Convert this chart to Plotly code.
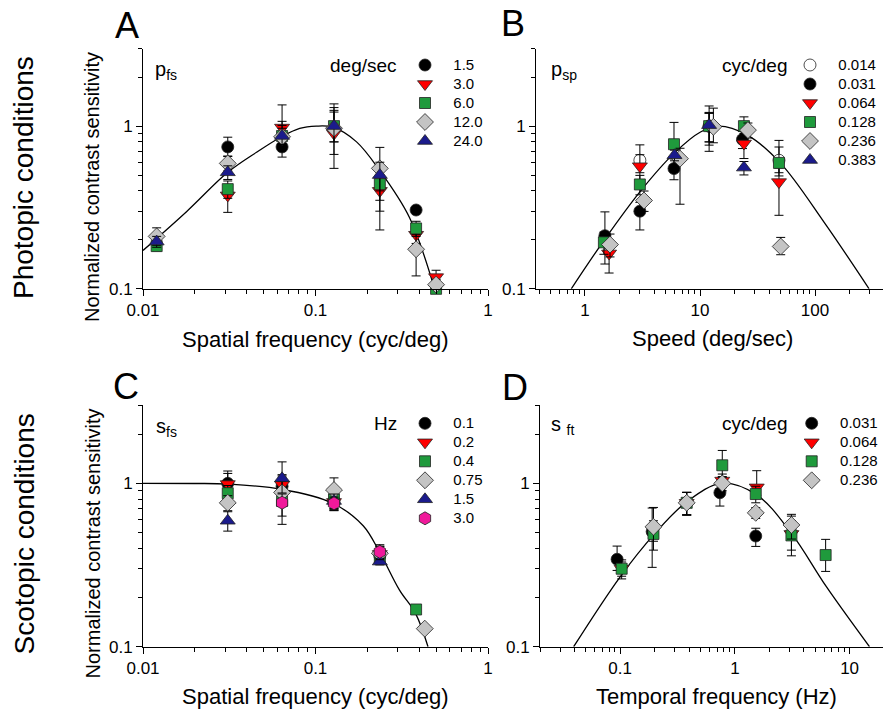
import math
import plotly.graph_objects as go

FONT = "Arial, 'Liberation Sans', sans-serif"
W, H = 883, 709

# ---------------- Panel A: p_fs (spatial frequency, photopic) ----------------
a_unit = "deg/sec"
a_labels = ["1.5", "3.0", "6.0", "12.0", "24.0"]
a_x1 = [0.031, 0.064, 0.383]
a_y1 = [0.745, 0.745, 0.305]
a_up1 = [0.11, 0.10, 0.012]
a_dn1 = [0.09, 0.10, 0.012]
a_x2 = [0.031, 0.064, 0.128, 0.236, 0.383, 0.5]
a_y2 = [0.375, 0.98, 0.90, 0.40, 0.215, 0.118]
a_up2 = [0.06, 0.37, 0.35, 0.10, 0.025, 0.012]
a_dn2 = [0.08, 0.20, 0.35, 0.17, 0.025, 0.010]
a_x3 = [0.012, 0.031, 0.064, 0.128, 0.236, 0.383, 0.5]
a_y3 = [0.183, 0.41, 0.87, 1.0, 0.44, 0.235, 0.10]
a_up3 = [0.010, 0.05, 0.20, 0.30, 0.10, 0.025, 0.005]
a_dn3 = [0.012, 0.05, 0.15, 0.20, 0.14, 0.025, 0.005]
a_x4 = [0.012, 0.031, 0.064, 0.128, 0.236, 0.383, 0.5]
a_y4 = [0.21, 0.59, 0.86, 0.97, 0.55, 0.175, 0.106]
a_up4 = [0.027, 0.06, 0.15, 0.25, 0.19, 0.04, 0.008]
a_dn4 = [0.025, 0.06, 0.12, 0.30, 0.20, 0.055, 0.008]
a_x5 = [0.012, 0.031, 0.064, 0.128, 0.236]
a_y5 = [0.195, 0.52, 0.87, 1.0, 0.5]
a_up5 = [0.015, 0.05, 0.10, 0.37, 0.10]
a_dn5 = [0.015, 0.05, 0.10, 0.20, 0.10]
a_fit_x = [0.01, 0.018, 0.031, 0.0455, 0.0635, 0.081, 0.101, 0.126, 0.173, 0.235, 0.35, 0.49]
a_fit_y = [0.172, 0.30, 0.52, 0.69, 0.86, 0.968, 1.0, 0.985, 0.80, 0.535, 0.275, 0.1]

# ---------------- Panel B: p_sp (speed, photopic) ----------------
b_unit = "cyc/deg"
b_labels = ["0.014", "0.031", "0.064", "0.128", "0.236", "0.383"]
b_x1 = [3.0, 12.0, 48.6]
b_y1 = [0.617, 1.0, 0.617]
b_up1 = [0.15, 0.20, 0.20]
b_dn1 = [0.10, 0.20, 0.10]
b_x2 = [1.49, 3.0, 5.94, 12.0, 23.4]
b_y2 = [0.212, 0.30, 0.548, 1.0, 0.828]
b_up2 = [0.085, 0.04, 0.08, 0.20, 0.10]
b_dn2 = [0.07, 0.07, 0.08, 0.20, 0.10]
b_x3 = [1.62, 3.0, 24.1, 48.6]
b_y3 = [0.165, 0.567, 0.782, 0.453]
b_up3 = [0.03, 0.10, 0.10, 0.10]
b_dn3 = [0.04, 0.10, 0.15, 0.17]
b_x4 = [1.46, 3.0, 5.94, 12.0, 24.1, 48.6]
b_y4 = [0.193, 0.438, 0.774, 1.0, 1.0, 0.594]
b_up4 = [0.03, 0.06, 0.28, 0.33, 0.14, 0.15]
b_dn4 = [0.03, 0.06, 0.20, 0.30, 0.10, 0.10]
b_x5 = [1.65, 3.26, 6.7, 13.07, 26.1, 50.3]
b_y5 = [0.187, 0.349, 0.631, 0.99, 0.945, 0.182]
b_up5 = [0.03, 0.05, 0.10, 0.30, 0.10, 0.025]
b_dn5 = [0.03, 0.05, 0.30, 0.20, 0.10, 0.020]
b_x6 = [6.0, 12.0, 24.1]
b_y6 = [0.662, 1.014, 0.556]
b_up6 = [0.05, 0.20, 0.05]
b_dn6 = [0.05, 0.25, 0.055]
b_fit_x = [0.76, 1.46, 3.05, 5.94, 10.1, 14.6, 25.8, 50.3, 119.7, 295]
b_fit_y = [0.1, 0.198, 0.40, 0.68, 0.92, 1.0, 0.88, 0.59, 0.257, 0.1]

# ---------------- Panel C: s_fs (spatial frequency, scotopic) ----------------
c_unit = "Hz"
c_labels = ["0.1", "0.2", "0.4", "0.75", "1.5", "3.0"]
c_x1 = [0.031, 0.064, 0.128, 0.236]
c_y1 = [1.0, 0.96, 0.78, 0.36]
c_up1 = [0.15, 0.15, 0.10, 0.04]
c_dn1 = [0.10, 0.15, 0.10, 0.03]
c_x2 = [0.031, 0.064, 0.128, 0.236]
c_y2 = [0.99, 0.98, 0.77, 0.37]
c_up2 = [0.20, 0.15, 0.08, 0.04]
c_dn2 = [0.10, 0.15, 0.08, 0.03]
c_x3 = [0.031, 0.064, 0.128, 0.236, 0.383]
c_y3 = [0.87, 0.78, 0.80, 0.348, 0.169]
c_up3 = [0.10, 0.15, 0.10, 0.03, 0.0]
c_dn3 = [0.10, 0.15, 0.10, 0.03, 0.0]
c_x4 = [0.031, 0.064, 0.128, 0.236, 0.43]
c_y4 = [0.76, 0.88, 0.91, 0.373, 0.129]
c_up4 = [0.08, 0.15, 0.17, 0.04, 0.0]
c_dn4 = [0.08, 0.15, 0.10, 0.04, 0.0]
c_x5 = [0.031, 0.064, 0.128, 0.236]
c_y5 = [0.59, 1.073, 0.78, 0.332]
c_up5 = [0.08, 0.28, 0.08, 0.015]
c_dn5 = [0.08, 0.20, 0.08, 0.015]
c_x6 = [0.064, 0.128, 0.236]
c_y6 = [0.761, 0.754, 0.381]
c_up6 = [0.10, 0.07, 0.04]
c_dn6 = [0.20, 0.07, 0.04]
c_fit_x = [0.01, 0.02, 0.031, 0.0635, 0.126, 0.189, 0.235, 0.307, 0.38, 0.449]
c_fit_y = [1.0, 0.998, 0.99, 0.92, 0.755, 0.55, 0.38, 0.222, 0.16, 0.1]

# ---------------- Panel D: s_ft (temporal frequency, scotopic) ----------------
d_unit = "cyc/deg"
d_labels = ["0.031", "0.064", "0.128", "0.236"]
d_x1 = [0.094, 0.19, 0.38, 0.74, 1.52]
d_y1 = [0.343, 0.506, 0.761, 0.876, 0.476]
d_up1 = [0.07, 0.20, 0.12, 0.05, 0.055]
d_dn1 = [0.05, 0.20, 0.12, 0.15, 0.065]
d_x2 = [0.103, 0.195, 0.38, 0.776, 1.55, 3.11]
d_y2 = [0.30, 0.52, 0.76, 1.04, 0.945, 0.49]
d_up2 = [0.03, 0.05, 0.12, 0.10, 0.25, 0.10]
d_dn2 = [0.03, 0.05, 0.12, 0.10, 0.10, 0.10]
d_x3 = [0.103, 0.195, 0.38, 0.776, 1.52, 3.11, 6.18]
d_y3 = [0.30, 0.49, 0.76, 1.29, 0.86, 0.48, 0.364]
d_up3 = [0.04, 0.10, 0.12, 0.30, 0.10, 0.15, 0.09]
d_dn3 = [0.04, 0.10, 0.12, 0.20, 0.10, 0.12, 0.075]
d_x4 = [0.195, 0.38, 0.776, 1.52, 3.11]
d_y4 = [0.542, 0.76, 1.0, 0.66, 0.556]
d_up4 = [0.17, 0.12, 0.10, 0.05, 0.09]
d_dn4 = [0.10, 0.12, 0.10, 0.05, 0.10]
d_fit_x = [0.0393, 0.1, 0.201, 0.38, 0.766, 1.55, 3.11, 6.27, 14.9]
d_fit_y = [0.1, 0.268, 0.494, 0.77, 1.0, 0.85, 0.494, 0.233, 0.1]

# ---------------- styles ----------------
STY = {
    "white": dict(symbol="circle", color="white", size=12),
    "black": dict(symbol="circle", color="black", size=12),
    "red": dict(symbol="triangle-down", color="#ff0000", size=13),
    "green": dict(symbol="square", color="#1f9a3c", size=11),
    "grey": dict(symbol="diamond", color="#c4c4c4", size=13),
    "navy": dict(symbol="triangle-up", color="#1b1b8c", size=13),
    "magenta": dict(symbol="hexagon", color="#f0199b", size=13),
}


def px(x):
    return x / W


def py(y):
    return 1 - y / H


fig = go.Figure()


def add_series(xs, ys, up, dn, style, name, xa, ya, legend, pad=2):
    s = STY[style]
    fig.add_trace(go.Scatter(
        x=xs, y=ys, mode="markers", xaxis=xa, yaxis=ya,
        name='<span style="font-size:15px">' + "\u00a0" * pad + name + '</span>',
        legend=legend, cliponaxis=False,
        marker=dict(symbol=s["symbol"], color=s["color"], size=s["size"],
                    line=dict(color="#222222", width=0.8)),
        error_y=dict(type="data", symmetric=False, array=up, arrayminus=dn,
                     color="black", thickness=1, width=4.5),
    ))


def add_fit(xs, ys, xa, ya):
    fig.add_trace(go.Scatter(x=xs, y=ys, mode="lines", xaxis=xa, yaxis=ya,
                             line=dict(color="black", width=1.3, shape="spline", smoothing=1.0),
                             showlegend=False, hoverinfo="skip"))


# Panel A
add_fit(a_fit_x, a_fit_y, "x", "y")
A = [(a_x1, a_y1, a_up1, a_dn1, "black"), (a_x2, a_y2, a_up2, a_dn2, "red"),
     (a_x3, a_y3, a_up3, a_dn3, "green"), (a_x4, a_y4, a_up4, a_dn4, "grey"),
     (a_x5, a_y5, a_up5, a_dn5, "navy")]
for (xs, ys, u, d, st), lab in zip(A, a_labels):
    add_series(xs, ys, u, d, st, lab, "x", "y", "legend")

# Panel B
add_fit(b_fit_x, b_fit_y, "x2", "y2")
B = [(b_x1, b_y1, b_up1, b_dn1, "white"), (b_x2, b_y2, b_up2, b_dn2, "black"),
     (b_x3, b_y3, b_up3, b_dn3, "red"), (b_x4, b_y4, b_up4, b_dn4, "green"),
     (b_x5, b_y5, b_up5, b_dn5, "grey"), (b_x6, b_y6, b_up6, b_dn6, "navy")]
for (xs, ys, u, d, st), lab in zip(B, b_labels):
    add_series(xs, ys, u, d, st, lab, "x2", "y2", "legend2")

# Panel C
add_fit(c_fit_x, c_fit_y, "x3", "y3")
C = [(c_x1, c_y1, c_up1, c_dn1, "black"), (c_x2, c_y2, c_up2, c_dn2, "red"),
     (c_x3, c_y3, c_up3, c_dn3, "green"), (c_x4, c_y4, c_up4, c_dn4, "grey"),
     (c_x5, c_y5, c_up5, c_dn5, "navy"), (c_x6, c_y6, c_up6, c_dn6, "magenta")]
for (xs, ys, u, d, st), lab in zip(C, c_labels):
    add_series(xs, ys, u, d, st, lab, "x3", "y3", "legend3")

# Panel D
add_fit(d_fit_x, d_fit_y, "x4", "y4")
D = [(d_x1, d_y1, d_up1, d_dn1, "black"), (d_x2, d_y2, d_up2, d_dn2, "red"),
     (d_x3, d_y3, d_up3, d_dn3, "green"), (d_x4, d_y4, d_up4, d_dn4, "grey")]
for (xs, ys, u, d, st), lab in zip(D, d_labels):
    add_series(xs, ys, u, d, st, lab, "x4", "y4", "legend4")

# ---------------- axes ----------------
def minor_vals(lo_exp, hi_exp, extra=()):
    vals = []
    for e in range(lo_exp, hi_exp):
        for m in range(2, 10):
            vals.append(m * 10 ** e)
    return vals + list(extra)


def axis(domain, rng, tickvals, ticktext, minors, anchor):
    return dict(
        type="log", domain=domain, range=rng, anchor=anchor,
        showline=True, linecolor="black", linewidth=1, mirror=False,
        showgrid=False, zeroline=False,
        ticks="outside", ticklen=6, tickwidth=1, tickcolor="black",
        tickmode="array", tickvals=tickvals, ticktext=ticktext,
        tickfont=dict(family=FONT, size=17, color="black"),
        minor=dict(tickmode="array", tickvals=minors, ticks="outside",
                   ticklen=4, tickwidth=1, tickcolor="black", showgrid=False),
    )


top_dom = [py(288.8), py(48.5)]
bot_dom = [py(646.7), py(405.4)]
y_ticks = [0.1, 1]
y_text = ["0.1", "1"]
y_minor = [0.2, 0.3, 0.4, 0.5, 0.6, 0.7, 0.8, 0.9, 2, 3]
y_range = [-1, math.log10(3)]

fig.update_layout(
    xaxis=axis([px(143), px(488)], [-2, 0], [0.01, 0.1, 1], ["0.01", "0.1", "1"],
               minor_vals(-2, 0), "y"),
    yaxis=axis(top_dom, y_range, y_ticks, y_text, y_minor, "x"),
    xaxis2=axis([px(536), 1], [math.log10(0.375), math.log10(390)], [1, 10, 100],
                ["1", "10", "100"], [0.4, 0.5, 0.6, 0.7, 0.8, 0.9] + minor_vals(0, 2, (200, 300)), "y2"),
    yaxis2=axis(top_dom, y_range, y_ticks, y_text, y_minor, "x2"),
    xaxis3=axis([px(143), px(488)], [-2, 0], [0.01, 0.1, 1], ["0.01", "0.1", "1"],
                minor_vals(-2, 0), "y3"),
    yaxis3=axis(bot_dom, y_range, y_ticks, y_text, y_minor, "x3"),
    xaxis4=axis([px(540), 1], [math.log10(0.02), 1.291], [0.1, 1, 10], ["0.1", "1", "10"],
                minor_vals(-2, 1), "y4"),
    yaxis4=axis(bot_dom, y_range, y_ticks, y_text, y_minor, "x4"),
)

# ---------------- legends ----------------
def leg(x_marker, y_first):
    return dict(x=px(x_marker - 20), y=py(y_first - 14.5), xanchor="left", yanchor="top",
                bgcolor="rgba(0,0,0,0)", borderwidth=0, itemsizing="trace",
                font=dict(family=FONT, size=12, color="black"), tracegroupgap=0)


fig.update_layout(
    legend=leg(425, 65), legend2=leg(810, 65), legend3=leg(425, 423.3), legend4=leg(811.7, 423.3),
)

# ---------------- annotations ----------------
ann = []


def text(t, x, y, size, angle=0, xanchor="center", yanchor="middle"):
    ann.append(dict(text=t, x=px(x), y=py(y), xref="paper", yref="paper", showarrow=False,
                    textangle=angle, xanchor=xanchor, yanchor=yanchor,
                    font=dict(family=FONT, size=size, color="black")))


text("A", 127, 26, 36)
text("B", 513, 24, 36)
text("C", 126, 386, 36)
text("D", 515, 387, 36)
text("Photopic conditions", 23.5, 177.5, 28, angle=-90)
text("Scotopic conditions", 23.5, 534, 28, angle=-90)
text("Normalized contrast sensitivity", 92, 187, 20, angle=-90)
text("Normalized contrast sensitivity", 92.5, 544, 20, angle=-90)
text("Spatial frequency (cyc/deg)", 315, 340, 22)
text("Speed (deg/sec)", 712, 339, 22)
text("Spatial frequency (cyc/deg)", 315, 696, 22)
text("Temporal frequency (Hz)", 716.5, 696, 22)
text("p<sub>fs</sub>", 153, 71, 20, xanchor="left")
text("p<sub>sp</sub>", 549, 71, 20, xanchor="left")
text("s<sub>fs</sub>", 154, 428, 20, xanchor="left")
text("s <sub>ft</sub>", 549, 426, 20, xanchor="left")
text(a_unit, 363, 66, 19)
text(b_unit, 754, 66, 19)
text(c_unit, 385, 423, 19)
text(d_unit, 754, 423, 19)

fig.update_layout(
    annotations=ann,
    width=W, height=H,
    margin=dict(l=0, r=0, t=0, b=0, autoexpand=False),
    paper_bgcolor="white", plot_bgcolor="white",
    font=dict(family=FONT, color="black"),
    showlegend=True,
)

fig.write_html("out.html", config={"displayModeBar": False},
               post_script="document.body.style.margin='0px';document.body.style.overflow='hidden';")
